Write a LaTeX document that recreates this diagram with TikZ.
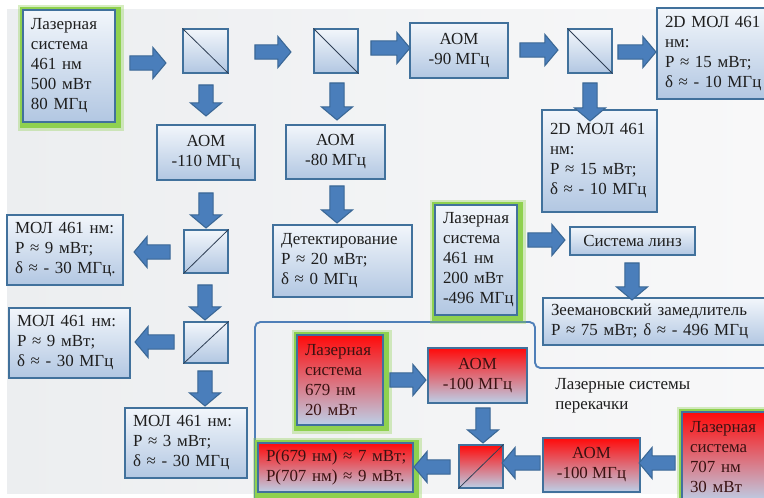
\documentclass[tikz,border=0pt]{standalone}
\usepackage{fontspec}
\setmainfont{Liberation Serif}
\newfontfamily\tmsfont{Liberation Serif}
\usetikzlibrary{shapes.arrows}
\definecolor{boxtop}{HTML}{F2F6FB}
\definecolor{boxbot}{HTML}{B2C7E2}
\definecolor{boxline}{HTML}{41719C}
\definecolor{arrfill}{HTML}{4A7EBB}
\definecolor{arrline}{HTML}{3A6795}
\definecolor{glow}{HTML}{8FD14F}
\definecolor{redtop}{HTML}{FF0A0A}
\definecolor{redmid}{HTML}{E39AAA}
\definecolor{redbot}{HTML}{BCD0E8}
\definecolor{bgl}{HTML}{ECEEF0}
\definecolor{bgr}{HTML}{F8F8F9}
\definecolor{txt}{HTML}{1E1E1E}
\definecolor{redtxt}{HTML}{3A1212}
\definecolor{regline}{HTML}{4F7FB8}
\definecolor{diagc}{HTML}{2F3F55}
\newcommand\nobrkhy{\exhyphenpenalty=10000\relax\hyphenpenalty=10000\relax}
\newcommand\bx[7][]{%
  \pgfmathsetmacro\bxW{(#5-#3)*0.75}%
  \pgfmathsetmacro\bxH{(#6-#4)*0.75}%
  \pgfmathsetmacro\bxT{\bxW-12}%
  \node[box,#1,minimum width=\bxW pt,minimum height=\bxH pt] (#2) at ({(#3+#5)/2},{(#4+#6)/2}) {#7};}
\newcommand\glw[4]{%
  \fill[glow,opacity=0.35] ({#1-5},{#2-5}) rectangle ({#3+9},{#4+9});
  \fill[glow] ({#1-3},{#2-3}) rectangle ({#3+6},{#4+6});}
\tikzset{
  box/.style={draw=boxline, line width=0.9pt, top color=boxtop, bottom color=boxbot,
    inner sep=0pt, font=\tmsfont\fontsize{12.7}{15}\selectfont,
    text=txt, align=center},
  redbox/.style={top color=redtop, middle color=redmid, bottom color=redbot, text=redtxt},
  lt/.style={align=left, text width=\bxT pt, execute at begin node=\nobrkhy},
  diag/.style={draw=diagc, line width=0.6pt},
  blk/.style={single arrow, draw=arrline, fill=arrfill, line width=0.8pt,
    minimum height=#1*0.75pt, inner xsep=0pt, inner ysep=4.9pt,
    single arrow head extend=6.4pt, single arrow tip angle=100,
    single arrow head indent=0pt},
  lbl/.style={inner sep=0pt, font=\tmsfont\fontsize{12.7}{15}\selectfont, text=txt, align=left}
}
\begin{document}
\begin{tikzpicture}[x=0.75pt,y=-0.75pt]
\useasboundingbox (0,0) rectangle (764,497);
\clip (0,0) rectangle (764,497);
\fill[white] (0,0) rectangle (764,497);
\shade[left color=bgl, right color=bgr] (7,9) rectangle (764,493);
% region outline
\draw[regline, line width=1.4pt, rounded corners=4pt] (255,505) -- (255,322) -- (535,322) -- (535,368) -- (775,368);
% top row
\glw{23}{10}{115}{122}
\bx[lt]{laser1}{23}{10}{115}{122}{Лазерная\\система\\461~нм\\500~мВт\\80~МГц}
\bx{split1}{183}{29}{228}{73}{}
\draw[diag] (split1.north west) -- (split1.south east);
\bx{split2}{314}{29}{358}{73}{}
\draw[diag] (split2.north west) -- (split2.south east);
\bx{aom90}{410}{23}{508}{78}{АОМ\\-90 МГц}
\bx{split3}{568}{29}{612}{73}{}
\draw[diag] (split3.north west) -- (split3.south east);
\bx[lt]{mol2da}{657}{8}{772}{99}{2D~МОЛ~461\\нм:\\P~≈~15~мВт;\\δ~≈~-~10~МГц}
% second row
\bx{aom110}{157}{125}{255}{180}{АОМ\\-110 МГц}
\bx{aom80}{286}{125}{385}{179}{АОМ\\-80 МГц}
\bx[lt]{mol2db}{542}{110}{657}{212}{2D~МОЛ~461\\нм:\\P~≈~15~мВт;\\δ~≈~-~10~МГц}
% left column
\bx{split4}{184}{230}{228}{273}{}
\draw[diag] (split4.south west) -- (split4.north east);
\bx[lt]{mol1}{7}{215}{123}{285}{МОЛ~461~нм:\\P~≈~9~мВт;\\δ~≈~-~30~МГц.}
\bx{split5}{184}{322}{228}{363}{}
\draw[diag] (split5.south west) -- (split5.north east);
\bx[lt]{mol2}{9}{308}{130}{378}{МОЛ~461~нм:\\P~≈~9~мВт;\\δ~≈~-~30~МГц}
\bx[lt]{mol3}{125}{408}{247}{478}{МОЛ~461~нм:\\P~≈~3~мВт;\\δ~≈~-~30~МГц}
% middle
\bx[lt]{det}{273}{225}{412}{297}{Детектирование\\P~≈~20~мВт;\\δ~≈~0~МГц}
\glw{435}{205}{517}{315}
\bx[lt]{laser2}{435}{205}{517}{315}{Лазерная\\система\\461~нм\\200~мВт\\-496~МГц}
\bx{linz}{570}{227}{695}{255}{Система линз}
\bx[lt]{zeeman}{543}{298}{772}{345}{Зеемановский~замедлитель\\P~≈~75~мВт;~δ~≈~-~496~МГц}
% repump region
\node[lbl, anchor=north west] (rlabel) at (555,378) {Лазерные системы\\перекачки};
\glw{297}{335}{383}{425}
\bx[redbox,lt]{laser679}{297}{335}{383}{425}{Лазерная\\система\\679~нм\\20~мВт}
\bx[redbox]{aom100a}{428}{348}{527}{403}{АОМ\\-100 МГц}
\bx[redbox]{split6}{459}{445}{503}{488}{}
\draw[diag] (split6.south west) -- (split6.north east);
\glw{258}{443}{413}{492}
\bx[redbox,lt]{out}{258}{443}{413}{492}{P(679~нм)~≈~7~мВт;\\P(707~нм)~≈~9~мВт.}
\bx[redbox]{aom100b}{543}{438}{640}{492}{АОМ\\-100 МГц}
\glw{682}{412}{772}{502}
\bx[redbox,lt]{laser707}{682}{412}{772}{502}{Лазерная\\система\\707~нм\\30~мВт}
% block arrows
\node[blk=36] (a1) at (145,63) {};
\node[blk=36] (a2) at (270,52) {};
\node[blk=39] (a3) at (387.5,48) {};
\node[blk=38] (a4) at (536,50) {};
\node[blk=38] (a5) at (634,52) {};
\node[blk=31, rotate=-90] (d1) at (206,97.5) {};
\node[blk=37, rotate=-90] (d2) at (337,98.5) {};
\node[blk=38, rotate=-90] (d3) at (590,99) {};
\node[blk=35, rotate=-90] (d4) at (206,207.5) {};
\node[blk=37, rotate=-90] (d5) at (337,201.5) {};
\node[blk=36, rotate=180] (l1) at (155,252) {};
\node[blk=35, rotate=-90] (d6) at (205,299.5) {};
\node[blk=39, rotate=180] (l2) at (157.5,342) {};
\node[blk=35, rotate=-90] (d7) at (205,385.5) {};
\node[blk=37] (r6) at (543.5,240) {};
\node[blk=37, rotate=-90] (d8) at (632,278.5) {};
\node[blk=36] (r7) at (405,380) {};
\node[blk=35, rotate=-90] (d9) at (483,422.5) {};
\node[blk=36, rotate=180] (l3) at (660,463) {};
\node[blk=38, rotate=180] (l4) at (524,463) {};
\node[blk=36, rotate=180] (l5) at (435,467) {};
\end{tikzpicture}
\end{document}
